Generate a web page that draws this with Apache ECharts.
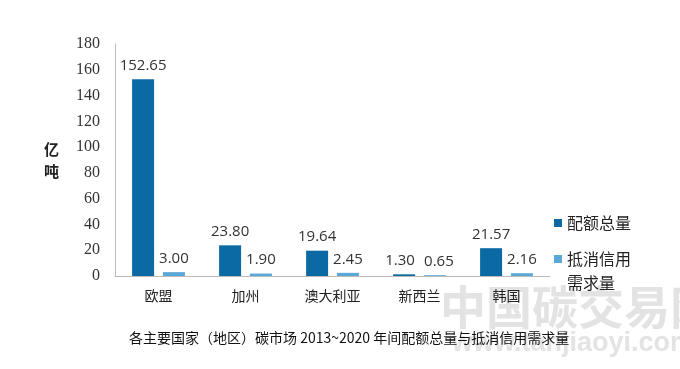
<!DOCTYPE html>
<html><head><meta charset="utf-8">
<script src="https://cdn.jsdelivr.net/npm/echarts@6/dist/echarts.min.js"></script>
<style>html,body{margin:0;padding:0;background:#fff}#c{width:680px;height:369px}</style>
</head><body><div id="c"></div>
<script>
const categories = ['欧盟', '加州', '澳大利亚', '新西兰', '韩国'];
const quotaTotal = [152.65, 23.80, 19.64, 1.30, 21.57];
const offsetDemand = [3.00, 1.90, 2.45, 0.65, 2.16];
const seriesNames = ['配额总量', '抵消信用需求量'];
const yTicks = [0, 20, 40, 60, 80, 100, 120, 140, 160, 180];
const titleText = '各主要国家（地区）碳市场 2013~2020 年间配额总量与抵消信用需求量';

const chart = echarts.init(document.getElementById('c'));
const labelStyle = {
  show: true, position: 'top', distance: 6,
  formatter: p => p.value.toFixed(2),
  fontFamily: 'Open Sans, Liberation Sans, sans-serif', fontSize: 15, color: '#333'
};
// spread the crowded labels of the 新西兰 pair apart, as in the reference
const withOffset = (arr, dx) => arr.map((v, i) =>
  categories[i] === '新西兰' ? { value: v, label: { offset: [dx, 0] } } : v);
const legendText = { fontFamily: 'Noto Sans CJK SC', fontSize: 16, color: '#222', lineHeight: 24 };
chart.setOption({
  animation: false,
  grid: { left: 115, right: 130, top: 44, bottom: 93 },
  title: {
    text: titleText, left: 124, top: 326,
    textStyle: { fontFamily: 'Noto Sans CJK SC', fontSize: 14, fontWeight: 'normal', color: '#111' }
  },
  legend: [
    { orient: 'vertical', left: 554, top: 211, padding: 0,
      itemWidth: 8, itemHeight: 8, icon: 'rect',
      textStyle: legendText, data: [seriesNames[0]] },
    { orient: 'vertical', left: 554, top: 223, padding: 0,
      itemWidth: 8, itemHeight: 8, icon: 'rect',
      // blank first line keeps the marker level with the first line of the wrapped name
      formatter: () => ' \n抵消信用\n需求量',
      textStyle: legendText,
      data: [seriesNames[1]] }
  ],
  xAxis: {
    type: 'category', data: categories,
    axisLine: { lineStyle: { color: '#bbb' } },
    axisTick: { show: false },
    axisLabel: { fontFamily: 'Noto Sans CJK SC', fontSize: 14, color: '#222', margin: 13 }
  },
  yAxis: {
    type: 'value', min: 0, max: 180, interval: 20,
    name: '亿\n吨', nameLocation: 'middle', nameGap: 56, nameRotate: 0,
    nameTextStyle: { fontFamily: 'Noto Sans CJK SC', fontSize: 15, fontWeight: 'bold', color: '#222', lineHeight: 22 },
    axisLine: { show: true, lineStyle: { color: '#bbb' } },
    axisTick: { show: false },
    splitLine: { show: false },
    axisLabel: {
      fontFamily: 'Liberation Serif, DejaVu Serif, serif', fontSize: 16, color: '#333', margin: 15,
      formatter: v => yTicks.includes(v) ? String(v) : ''
    }
  },
  series: [
    { name: seriesNames[0], type: 'bar', data: withOffset(quotaTotal, -4), barWidth: 22, barGap: '40%',
      itemStyle: { color: '#0b6aa3' }, label: labelStyle },
    { name: seriesNames[1], type: 'bar', data: withOffset(offsetDemand, 4), barWidth: 22,
      itemStyle: { color: '#5aa8d8' }, label: labelStyle }
  ],
  graphic: [
    { type: 'text', left: 440, top: 284, silent: true,
      style: { text: '中国碳交易网', font: 'bold 46px "Noto Sans CJK SC"', fill: 'rgba(200,200,200,0.5)' } },
    { type: 'text', left: 452, top: 330, silent: true,
      style: { text: 'www.tanjiaoyi.com', font: 'bold 27px "Liberation Sans"', fill: 'rgba(200,200,200,0.5)' } }
  ]
});
</script></body></html>
